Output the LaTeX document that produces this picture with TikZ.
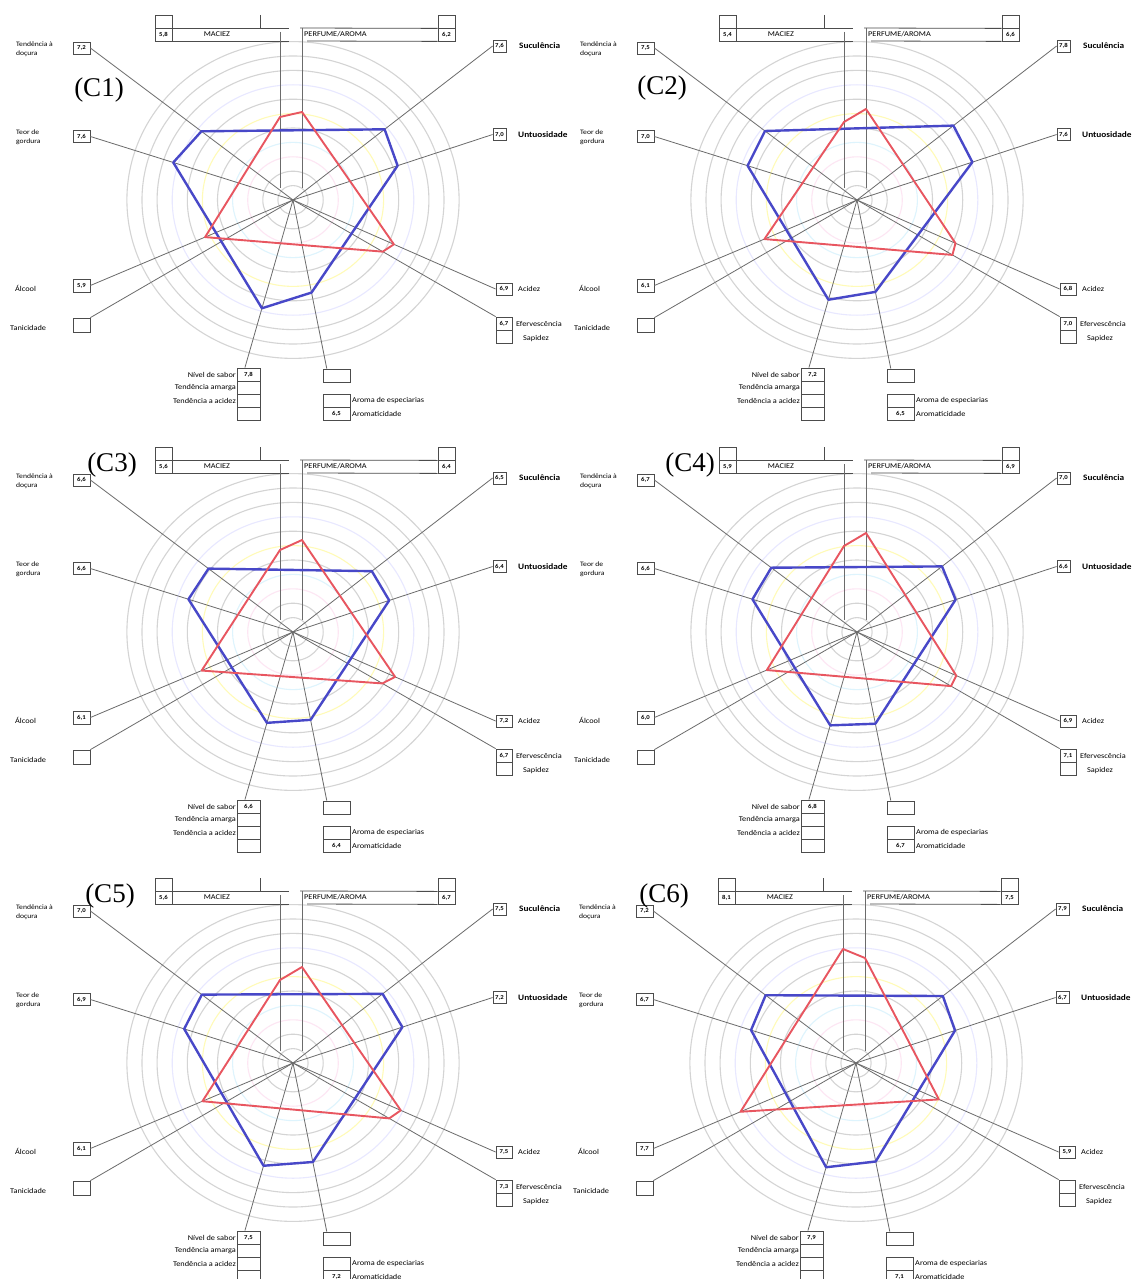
\documentclass[tikz,border=0pt]{standalone}
\usepackage{fontspec}
\setmainfont{Liberation Serif}
\newfontfamily\labf[FakeStretch=1.12]{Carlito}
\usetikzlibrary{calc}
\definecolor{bpcol}{RGB}{72,72,200}
\definecolor{rpcol}{RGB}{232,86,96}
\tikzset{
 lbl/.style={font=\labf\fontsize{7.4}{8}\selectfont, inner sep=0pt},
 lbls/.style={font=\labf\fontsize{6.8}{8.5}\selectfont, inner sep=0pt, align=left},
 lblb/.style={font=\labf\bfseries\fontsize{8.3}{9}\selectfont, inner sep=0pt},
 vbox/.style={draw=black!70, line width=0.8pt, minimum width=17pt, minimum height=13pt, inner sep=0pt, font=\labf\bfseries\fontsize{6}{6}\selectfont},
 boxline/.style={draw=black!70, line width=0.8pt},
 axln/.style={draw=black!58, line width=0.8pt},
 ring/.style={line width=1.1pt},
 bpoly/.style={draw=bpcol, line width=2.4pt, line join=round},
 rpoly/.style={draw=rpcol, line width=1.9pt, line join=round},
 plab/.style={font=\fontsize{27}{27}\selectfont, inner sep=0pt},
}
\pgfkeys{/rp/.cd, mac/.store in=\rpMac, per/.store in=\rpPer, suc/.store in=\rpSuc,
 unt/.store in=\rpUnt, aci/.store in=\rpAci, efe/.store in=\rpEfe, aro/.store in=\rpAro,
 niv/.store in=\rpNiv, alc/.store in=\rpAlc, ten/.store in=\rpTen, teo/.store in=\rpTeo}
% #1 id, #2 cx, #3 cy, #4 label, #5 lx, #6 ly, #7 values
\newcommand\radarpanel[7]{%
\pgfkeys{/rp/.cd,mac=,per=,suc=,unt=,aci=,efe=,aro=,niv=,alc=,ten=,teo=,#7}%
\begin{scope}[shift={(#2,#3)}]
\coordinate (#1-c) at (0,0);
\foreach \k/\rc in {1/black!17,2/black!17,3/magenta!10,4/cyan!13,5/black!17,6/yellow!28,7/black!17,8/blue!9,9/black!17,10/black!17,11/black!17}
 {\draw[ring,draw=\rc] (#1-c) ellipse [x radius=\k*15.1pt, y radius=\k*14.4pt];}
% MACIEZ header
\node[vbox] (#1-macT) at (-129.5,-178.5) {};
\node[vbox] (#1-macV) at (-129.5,-165.5) {\rpMac};
\draw[boxline] (#1-macT.south east) -- ++(117,0);
\draw[boxline] (#1-macV.south east) -- ++(117,0);
\draw[boxline] (-33,-185) -- (-33,-172);
\node[lbl] (#1-macL) at (-76,-165.5) {MACIEZ};
\coordinate (#1-macTop) at (-13,-168);
\coordinate (#1-macBot) at (-13,-12);
\draw[axln] (#1-macTop) -- (#1-macBot);
% PERFUME header
\node[vbox] (#1-perT) at (153.5,-178.5) {};
\node[vbox] (#1-perV) at (153.5,-165.5) {\rpPer};
\draw[boxline] (#1-perT.south west) -- (7,-172);
\draw[boxline] (#1-perV.south west) -- (14,-159);
\node[lbl,anchor=west] (#1-perL) at (11,-165.5) {PERFUME/AROMA};
\coordinate (#1-perTop) at (9,-172);
\coordinate (#1-perBot) at (9,-12);
\draw[axln] (#1-perTop) -- (#1-perBot);
% right side
\node[vbox,minimum width=13pt,minimum height=12pt] (#1-suc) at (206.5,-154) {\rpSuc};
\node[lblb,anchor=west] (#1-sucL) at (226,-154) {Suculência};
\node[vbox,minimum width=13pt,minimum height=12pt] (#1-unt) at (206.5,-65.5) {\rpUnt};
\node[lblb,anchor=west] (#1-untL) at (225,-65.5) {Untuosidade};
\node[vbox,minimum width=16pt,minimum height=12pt] (#1-aci) at (211,89) {\rpAci};
\node[lbl,anchor=west] (#1-aciL) at (225,89) {Acidez};
\node[vbox,minimum width=16pt] (#1-efe) at (211,123.5) {\rpEfe};
\node[vbox,minimum width=16pt] (#1-sap) at (211,136.5) {};
\node[lbl,anchor=west] (#1-efeL) at (223,123.5) {Efervescência};
\node[lbl] (#1-sapL) at (243,139) {Sapidez};
% left side
\node[vbox,minimum height=12pt] (#1-ten) at (-211.5,-152) {\rpTen};
\node[lbls,anchor=north west] (#1-tenL) at (-277,-158) {Tendência à\\doçura};
\node[vbox,minimum height=12pt] (#1-teo) at (-211.5,-63.5) {\rpTeo};
\node[lbls,anchor=north west] (#1-teoL) at (-277,-70) {Teor de\\gordura};
\node[vbox] (#1-alc) at (-211.5,85.5) {\rpAlc};
\node[lbl,anchor=west] (#1-alcL) at (-278,88) {Álcool};
\node[vbox,minimum height=14pt] (#1-tan) at (-211.5,125) {};
\node[lbl,anchor=west] (#1-tanL) at (-283,128) {Tanicidade};
% bottom left
\node[vbox,minimum width=23pt] (#1-niv) at (-44.5,174.5) {\rpNiv};
\node[vbox,minimum width=23pt] (#1-tam) at (-44.5,187.5) {};
\node[vbox,minimum width=23pt] (#1-tac) at (-44.5,200.5) {};
\node[vbox,minimum width=23pt] (#1-tx) at (-44.5,213.5) {};
\node[lbl,anchor=east] (#1-nivL) at (-57,174.5) {Nível de sabor};
\node[lbl,anchor=east] (#1-tamL) at (-57,187.5) {Tendência amarga};
\node[lbl,anchor=east] (#1-tacL) at (-57,200.5) {Tendência a acidez};
% bottom middle
\node[vbox,minimum width=27pt] (#1-emp) at (43.5,175.5) {};
\node[vbox,minimum width=27pt] (#1-are) at (43.5,200.5) {};
\node[vbox,minimum width=27pt] (#1-aro) at (43.5,213.5) {\rpAro};
\node[lbl,anchor=west] (#1-areL) at (59,200.5) {Aroma de especiarias};
\node[lbl,anchor=west] (#1-aroL) at (59,213.5) {Aromaticidade};
% axis ends
\coordinate (#1-eTen) at (#1-ten.east);
\coordinate (#1-eTeo) at (#1-teo.east);
\coordinate (#1-eAlc) at (#1-alc.east);
\coordinate (#1-eTan) at (#1-tan.north east);
\coordinate (#1-eNiv) at ($(#1-niv.north west)!0.35!(#1-niv.north east)$);
\coordinate (#1-eAro) at ($(#1-emp.north west)!0.15!(#1-emp.north east)$);
\coordinate (#1-eEfe) at (#1-efe.north west);
\coordinate (#1-eAci) at (#1-aci.west);
\coordinate (#1-eUnt) at (#1-unt.west);
\coordinate (#1-eSuc) at (#1-suc.west);
\foreach \e in {Ten,Teo,Alc,Tan,Niv,Aro,Efe,Aci,Unt,Suc}{\draw[axln] (#1-c) -- (#1-e\e);}
\node[plab] (#1-lab) at (#5,#6) {#4};
\end{scope}}
\newcommand\bluepoly[7]{\draw[bpoly] ($(#1-c)!#2!(#1-eTen)$) -- ($(#1-c)!#3!(#1-eSuc)$) -- ($(#1-c)!#4!(#1-eUnt)$) -- ($(#1-c)!#5!(#1-eAro)$) -- ($(#1-c)!#6!(#1-eNiv)$) -- ($(#1-c)!#7!(#1-eTeo)$) -- cycle;}
\newcommand\redpoly[6]{\draw[rpoly] ($(#1-c)+(-13,#2)$) -- ($(#1-c)+(9,#3)$) -- ($(#1-c)!#4!(#1-eAci)$) -- ($(#1-c)!#5!(#1-eEfe)$) -- ($(#1-c)!#6!(#1-eAlc)$) -- cycle;}
\begin{document}
\begin{tikzpicture}[x=1pt,y=-1pt]
\useasboundingbox (0,0) rectangle (1138,1279);
\fill[white] (0,0) rectangle (1138,1279);
\radarpanel{c1}{293}{200}{(C1)}{-194}{-110}{mac={5,8},per={6,2},suc={7,6},unt={7,0},aci={6,9},efe={6,7},aro={6,5},niv={7,8},alc={5,9},ten={7,2},teo={7,6}}
\radarpanel{c2}{857}{200}{(C2)}{-195}{-112}{mac={5,4},per={6,6},suc={7,8},unt={7,6},aci={6,8},efe={7,0},aro={6,5},niv={7,2},alc={6,1},ten={7,5},teo={7,0}}
\radarpanel{c3}{293}{632}{(C3)}{-181}{-167}{mac={5,6},per={6,4},suc={6,5},unt={6,4},aci={7,2},efe={6,7},aro={6,4},niv={6,6},alc={6,1},ten={6,6},teo={6,6}}
\radarpanel{c4}{857}{632}{(C4)}{-167}{-167}{mac={5,9},per={6,9},suc={7,0},unt={6,6},aci={6,9},efe={7,1},aro={6,7},niv={6,8},alc={6,0},ten={6,7},teo={6,6}}
\radarpanel{c5}{293}{1063}{(C5)}{-183}{-167}{mac={5,6},per={6,7},suc={7,5},unt={7,2},aci={7,5},efe={7,3},aro={7,2},niv={7,5},alc={6,1},ten={7,0},teo={6,9}}
\radarpanel{c6}{856}{1063}{(C6)}{-192}{-167}{mac={8,1},per={7,5},suc={7,9},unt={6,7},aci={5,9},efe={},aro={7,1},niv={7,9},alc={7,7},ten={7,2},teo={6,7}}
\bluepoly{c1}{0.452}{0.459}{0.524}{0.549}{0.646}{0.591}
\bluepoly{c2}{0.454}{0.483}{0.578}{0.545}{0.595}{0.540}
\bluepoly{c3}{0.417}{0.395}{0.482}{0.521}{0.542}{0.516}
\bluepoly{c4}{0.423}{0.426}{0.494}{0.544}{0.557}{0.516}
\bluepoly{c5}{0.450}{0.449}{0.548}{0.587}{0.613}{0.537}
\bluepoly{c6}{0.446}{0.435}{0.496}{0.584}{0.622}{0.518}
\redpoly{c1}{-83}{-88}{0.498}{0.443}{0.434}
\redpoly{c2}{-78}{-91}{0.486}{0.471}{0.457}
\redpoly{c3}{-82}{-92}{0.504}{0.441}{0.451}
\redpoly{c4}{-86}{-99}{0.490}{0.464}{0.445}
\redpoly{c5}{-83}{-96}{0.532}{0.475}{0.447}
\draw[rpoly] ($(c6-c)+(-13,-114)$) -- ($(c6-c)+(9,-105)$) -- ($(c6-c)!0.409!(c6-eAci)$) -- ($(c6-c)!0.570!(c6-eAlc)$) -- cycle;
\end{tikzpicture}
\end{document}
